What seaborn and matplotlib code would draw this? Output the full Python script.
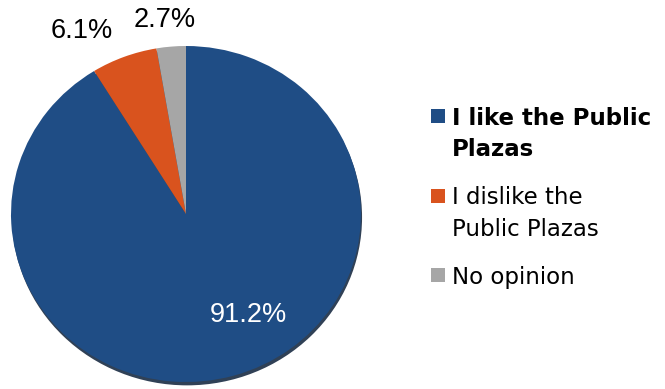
import matplotlib
matplotlib.use("Agg")
import matplotlib.pyplot as plt
from matplotlib.patches import Ellipse, Rectangle
import seaborn as sns

# Survey responses about the Public Plazas
categories = ["I like the Public\nPlazas", "I dislike the\nPublic Plazas", "No opinion"]
shares = [91.2, 6.1, 2.7]
pct_labels = ["91.2%", "6.1%", "2.7%"]
bold_entry = [True, False, False]

sns.set_theme(style="white")
palette = sns.color_palette(["#1F4D85", "#D9531E", "#A6A6A6"])

W, H = 665, 389
fig = plt.figure(figsize=(W / 100, H / 100), dpi=100)
fig.patch.set_facecolor("white")

# pie axes (slightly flattened ellipse)
ax = fig.add_axes([11 / W, 1 - 382 / H, 350 / W, 336 / H])
shadow = Ellipse((0.006, -0.02), 2.0, 2.0, color="#0c1f38", alpha=0.85,
                 zorder=0, linewidth=0)
shadow.set_clip_on(False)
ax.add_patch(shadow)
wedges, _ = ax.pie(shares, colors=palette, startangle=90, counterclock=False,
                   radius=1, wedgeprops=dict(linewidth=0))
for w in wedges:
    w.set_zorder(1)
    w.set_clip_on(False)
ax.set_aspect("auto")
ax.set_xlim(-1, 1)
ax.set_ylim(-1, 1)
ax.axis("off")

# value labels
label_pos = [(0.357, -0.602), (-0.594, 1.089), (-0.123, 1.154)]
label_col = ["white", "black", "black"]
for txt, (x, y), c in zip(pct_labels, label_pos, label_col):
    ax.text(x, y, txt, ha="center", va="center", color=c, fontsize=19.5,
            family="Liberation Sans", clip_on=False, zorder=5)

# legend: square marker aligned with first line of each entry
px = lambda v: v / W
py = lambda v: 1 - v / H
baseline = 125.0
line_h = 31.0
entry_gap = 48.5
for label, col, bold in zip(categories, palette, bold_entry):
    fig.add_artist(Rectangle((px(431), py(baseline - 2)), 14 / W, 14 / H,
                             transform=fig.transFigure, color=col, linewidth=0))
    lines = label.split("\n")
    for i, line in enumerate(lines):
        fig.text(px(452), py(baseline + i * line_h), line, ha="left", va="baseline",
                 fontsize=16.5, family="DejaVu Sans",
                 fontweight="bold" if bold else "normal", color="black")
    baseline += (len(lines) - 1) * line_h + entry_gap

fig.savefig("out.png", dpi=100, facecolor="white")
